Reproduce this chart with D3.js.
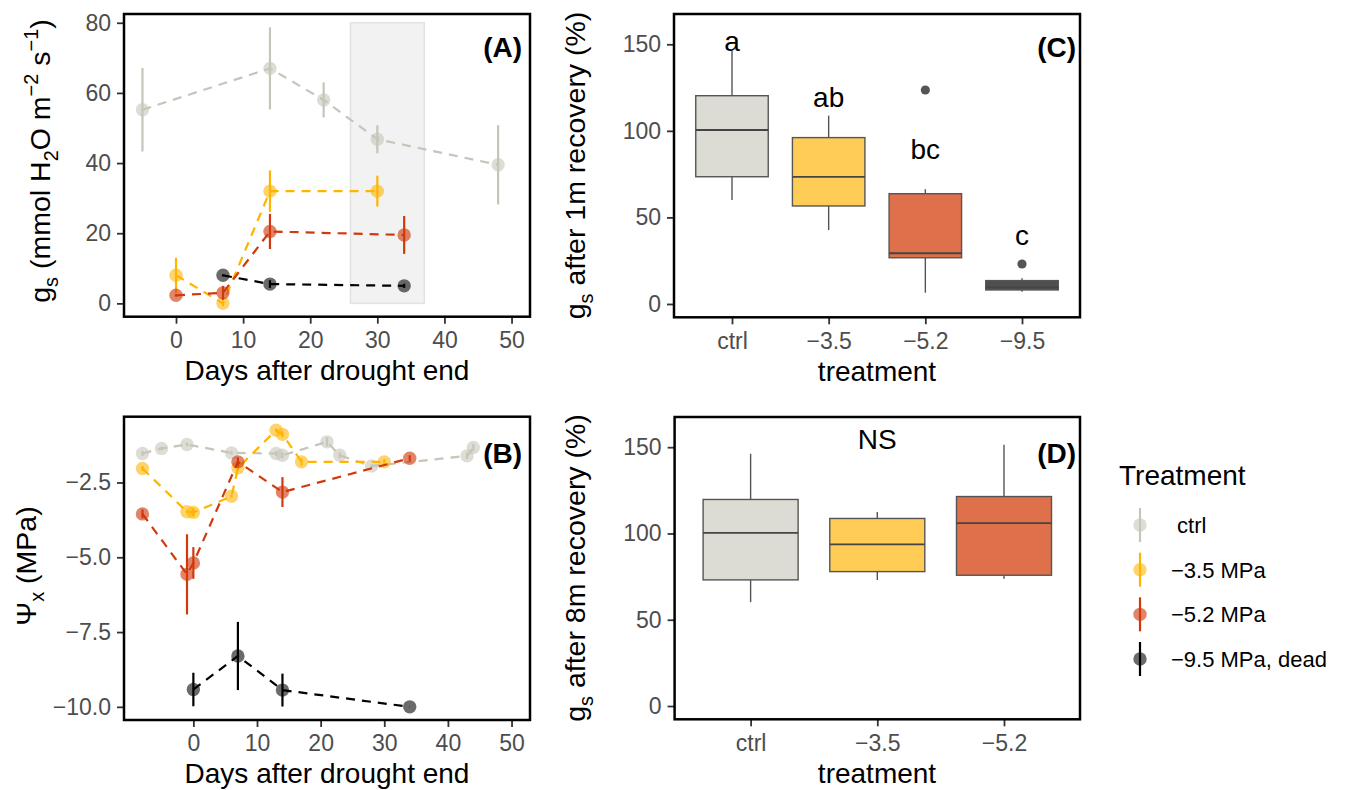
<!DOCTYPE html>
<html>
<head>
<meta charset="utf-8">
<script src="https://cdn.jsdelivr.net/npm/d3@7"></script>
<style>
  body { margin: 0; background: #fff; }
  text { font-family: "Liberation Sans", Arial, sans-serif; white-space: pre; }
</style>
</head>
<body>
<svg id="fig" width="1346" height="790"></svg>
<script>
// ---------- data ----------
const treatments = ["ctrl", "−3.5", "−5.2", "−9.5"];
const legendLabels = [" ctrl", "−3.5 MPa", "−5.2 MPa", "−9.5 MPa, dead"];
const lineColors = ["#C5C5B9", "#FFB400", "#D0390B", "#000000"];
const boxFills = ["#DCDCD4", "#FFCD55", "#DE714B", "#4F4F4F"];

// panel A: gs (mmol m-2 s-1) vs days after drought end
const gsCtrlDays = [-5, 14, 22, 30, 48];
const gsCtrlMean = [55.2, 67, 58, 46.8, 39.5];
const gsCtrlSe   = [11.9, 11.7, 5, 4, 11.3];
const gs35Days = [0, 7, 14, 30];
const gs35Mean = [8, 0, 32, 32];
const gs35Se   = [5, 0.8, 5.9, 4.4];
const gs52Days = [0, 7, 14, 34];
const gs52Mean = [2.3, 3, 20.5, 19.5];
const gs52Se   = [0.4, 2, 5, 5.4];
const gs95Days = [7, 14, 34];
const gs95Mean = [8, 5.5, 5];
const gs95Se   = [0.3, 1.1, 0.6];
const shadeDays = [26, 37];
const shadeGs = [0, 80];

// panel B: xylem water potential (MPa)
const psiCtrlDays = [-8, -5, -1, 6, 13, 14, 21, 23, 28, 43, 44];
const psiCtrlMean = [-1.53, -1.36, -1.23, -1.51, -1.53, -1.59, -1.14, -1.59, -1.95, -1.61, -1.33];
const psiCtrlSe   = [0.08, 0.06, 0.06, 0.06, 0.08, 0.1, 0.15, 0.1, 0.06, 0.1, 0.12];
const psi35Days = [-8, -1, 0, 6, 7, 13, 14, 17, 30];
const psi35Mean = [-2.03, -3.48, -3.5, -2.96, -2.01, -0.75, -0.89, -1.81, -1.81];
const psi35Se   = [0.08, 0.05, 0.15, 0.05, 0.1, 0.05, 0.1, 0.12, 0.1];
const psi52Days = [-8, -1, 0, 7, 14, 34];
const psi52Mean = [-3.55, -5.57, -5.19, -1.81, -2.82, -1.69];
const psi52Se   = [0.15, 1.34, 0.53, 0.15, 0.5, 0.1];
const psi95Days = [0, 7, 14, 34];
const psi95Mean = [-9.42, -8.3, -9.44, -10.0];
const psi95Se   = [0.56, 1.14, 0.55, 0];

// panel C: gs after 1 month recovery (%)
const c1Lo  = [60, 42.7, 6.5, 7.1];
const c1Q1  = [73.5, 56.6, 26.7, 8.1];
const c1Med = [100.5, 73.4, 29.3, 9.6];
const c1Q3  = [120.3, 96.1, 63.7, 13.5];
const c1Hi  = [146.5, 108.8, 66.3, 14.8];
const c1Out = [[], [], [123.6], [23.1]];
const c1Letters = ["a", "ab", "bc", "c"];
const c1LetterY = [146, 114, 84, 34];

// panel D: gs after 8 months recovery (%)
const d8Lo  = [60.2, 73.1, 73.7];
const d8Q1  = [73.1, 77.9, 75.8];
const d8Med = [100.4, 93.7, 106];
const d8Q3  = [119.7, 108.7, 121.4];
const d8Hi  = [146.2, 112.5, 151.4];
const d8Label = "NS";
const d8LabelY = 149;

const xTicks = [0, 10, 20, 30, 40, 50];
const gsTicks = [0, 20, 40, 60, 80];
const psiTicks = [-2.5, -5, -7.5, -10];
const pctTicks = [0, 50, 100, 150];

// ---------- helpers ----------
const svg = d3.select("#fig");
const tickFont = 23, titleFont = 28, rotFont = 28.5;

function hText(x, y, str, size, anchor, weight) {
  return svg.append("text")
    .attr("x", x).attr("y", y)
    .attr("text-anchor", anchor || "middle")
    .attr("font-size", size)
    .attr("font-weight", weight || "normal")
    .attr("fill", "#000")
    .text(str);
}

function vTitle(x, y, parts) {
  const t = svg.append("text")
    .attr("transform", `translate(${x},${y}) rotate(-90)`)
    .attr("text-anchor", "middle")
    .attr("font-size", rotFont);
  let shift = 0;
  parts.forEach(p => {
    const target = p[1] === "sub" ? 0.28 * rotFont : p[1] === "sup" ? -0.42 * rotFont : 0;
    t.append("tspan")
      .attr("dy", target - shift)
      .attr("font-size", p[1] === "n" ? rotFont : rotFont * 0.7)
      .text(p[0]);
    shift = target;
  });
  return t;
}

function styleAxis(g) {
  g.attr("font-size", null).attr("font-family", null);
  g.select(".domain").remove();
  g.selectAll(".tick line").attr("stroke", "#333").attr("stroke-width", 1.8);
  g.selectAll(".tick text").attr("fill", "#4D4D4D").attr("font-size", tickFont);
}

function frame(x, y) {
  svg.append("rect")
    .attr("x", x.range()[0]).attr("y", y.range()[1])
    .attr("width", x.range()[1] - x.range()[0])
    .attr("height", y.range()[0] - y.range()[1])
    .attr("fill", "none").attr("stroke", "#000").attr("stroke-width", 2.5);
}

function timeSeries(g, x, y, days, mean, se, col) {
  const pts = days.map((d, i) => ({ d: d, m: mean[i], s: se[i] }));
  g.append("g").selectAll("circle").data(pts).join("circle")
    .attr("cx", p => x(p.d)).attr("cy", p => y(p.m)).attr("r", 6.7)
    .attr("fill", col).attr("fill-opacity", col === "#D0390B" ? 0.62 : 0.58);
  g.append("path").datum(pts)
    .attr("fill", "none").attr("stroke", col).attr("stroke-width", 2.2)
    .attr("stroke-dasharray", "9,7")
    .attr("d", d3.line().x(p => x(p.d)).y(p => y(p.m)));
  g.append("g").selectAll("line").data(pts.filter(p => p.s > 0)).join("line")
    .attr("x1", p => x(p.d)).attr("x2", p => x(p.d))
    .attr("y1", p => y(p.m - p.s)).attr("y2", p => y(p.m + p.s))
    .attr("stroke", col).attr("stroke-width", 2.2);
}

function boxes(x, y, cats, lo, q1, med, q3, hi, outs) {
  const w = x.step() * 0.75;
  const g = svg.append("g");
  cats.forEach((c, i) => {
    const cx = x(c);
    g.append("line").attr("x1", cx).attr("x2", cx).attr("y1", y(hi[i])).attr("y2", y(q3[i]))
      .attr("stroke", "#555").attr("stroke-width", 1.4);
    g.append("line").attr("x1", cx).attr("x2", cx).attr("y1", y(q1[i])).attr("y2", y(lo[i]))
      .attr("stroke", "#555").attr("stroke-width", 1.4);
    g.append("rect").attr("x", cx - w / 2).attr("width", w)
      .attr("y", y(q3[i])).attr("height", y(q1[i]) - y(q3[i]))
      .attr("fill", boxFills[i]).attr("stroke", "#555").attr("stroke-width", 1.4);
    g.append("line").attr("x1", cx - w / 2).attr("x2", cx + w / 2)
      .attr("y1", y(med[i])).attr("y2", y(med[i]))
      .attr("stroke", "#444").attr("stroke-width", 1.8);
    (outs ? outs[i] : []).forEach(o => {
      g.append("circle").attr("cx", cx).attr("cy", y(o)).attr("r", 4.6).attr("fill", "#555");
    });
  });
}

// ---------- panel A ----------
const xA = d3.scaleLinear().domain([-7.75, 52.75]).range([124, 530]);
const yA = d3.scaleLinear().domain([-3.8, 82.5]).range([316.7, 14]);
svg.append("rect")
  .attr("x", xA(shadeDays[0])).attr("width", xA(shadeDays[1]) - xA(shadeDays[0]))
  .attr("y", yA(shadeGs[1])).attr("height", yA(shadeGs[0]) - yA(shadeGs[1]))
  .attr("fill", "#F2F2F2").attr("stroke", "#E2E2E2").attr("stroke-width", 1.5);
const gA = svg.append("g");
timeSeries(gA, xA, yA, gsCtrlDays, gsCtrlMean, gsCtrlSe, lineColors[0]);
timeSeries(gA, xA, yA, gs35Days, gs35Mean, gs35Se, lineColors[1]);
timeSeries(gA, xA, yA, gs52Days, gs52Mean, gs52Se, lineColors[2]);
timeSeries(gA, xA, yA, gs95Days, gs95Mean, gs95Se, lineColors[3]);
svg.append("g").attr("transform", "translate(0,316.7)")
  .call(d3.axisBottom(xA).tickValues(xTicks).tickSize(7).tickPadding(8)).call(styleAxis);
svg.append("g").attr("transform", "translate(124,0)")
  .call(d3.axisLeft(yA).tickValues(gsTicks).tickSize(7).tickPadding(6)).call(styleAxis);
frame(xA, yA);
hText(522, 57, "(A)", titleFont, "end", "bold");
hText(327, 380, "Days after drought end", titleFont);
vTitle(50, 161, [["g", "n"], ["s", "sub"], [" (mmol H", "n"], ["2", "sub"], ["O m", "n"],
                 ["−2", "sup"], [" s", "n"], ["−1", "sup"], [")", "n"]]);

// ---------- panel B ----------
const xB = d3.scaleLinear().domain([-10.9, 52.9]).range([124, 530]);
const yB = d3.scaleLinear().domain([-10.44, -0.3]).range([720, 416.7]);
const gB = svg.append("g");
timeSeries(gB, xB, yB, psiCtrlDays, psiCtrlMean, psiCtrlSe, lineColors[0]);
timeSeries(gB, xB, yB, psi35Days, psi35Mean, psi35Se, lineColors[1]);
timeSeries(gB, xB, yB, psi52Days, psi52Mean, psi52Se, lineColors[2]);
timeSeries(gB, xB, yB, psi95Days, psi95Mean, psi95Se, lineColors[3]);
svg.append("g").attr("transform", "translate(0,720)")
  .call(d3.axisBottom(xB).tickValues(xTicks).tickSize(7).tickPadding(8)).call(styleAxis);
svg.append("g").attr("transform", "translate(124,0)")
  .call(d3.axisLeft(yB).tickValues(psiTicks).tickFormat(d3.format(".1f")).tickSize(7).tickPadding(6))
  .call(styleAxis);
frame(xB, yB);
hText(522, 463, "(B)", titleFont, "end", "bold");
hText(327, 783, "Days after drought end", titleFont);
vTitle(36, 566, [["Ψ", "n"], ["x", "sub"], [" (MPa)", "n"]]);

// ---------- panel C ----------
const xC = d3.scalePoint().domain(treatments).range([674, 1080]).padding(0.6);
const yC = d3.scaleLinear().domain([-7.7, 167.5]).range([317.3, 14]);
boxes(xC, yC, treatments, c1Lo, c1Q1, c1Med, c1Q3, c1Hi, c1Out);
c1Letters.forEach((l, i) => hText(xC(treatments[i]), yC(c1LetterY[i]), l, titleFont));
svg.append("g").attr("transform", "translate(0,317.3)")
  .call(d3.axisBottom(xC).tickSize(7).tickPadding(8)).call(styleAxis);
svg.append("g").attr("transform", "translate(674,0)")
  .call(d3.axisLeft(yC).tickValues(pctTicks).tickSize(7).tickPadding(6)).call(styleAxis);
frame(xC, yC);
hText(1076, 57, "(C)", titleFont, "end", "bold");
hText(877, 381, "treatment", titleFont);
vTitle(585, 165.5, [["g", "n"], ["s", "sub"], [" after 1m recovery (%)", "n"]]);

// ---------- panel D ----------
const catsD = treatments.slice(0, 3);
const xD = d3.scalePoint().domain(catsD).range([674.6, 1080]).padding(0.6);
const yD = d3.scaleLinear().domain([-7.7, 167.5]).range([719.3, 417]);
boxes(xD, yD, catsD, d8Lo, d8Q1, d8Med, d8Q3, d8Hi, null);
hText(xD(catsD[1]), yD(d8LabelY), d8Label, titleFont);
svg.append("g").attr("transform", "translate(0,719.3)")
  .call(d3.axisBottom(xD).tickSize(7).tickPadding(8)).call(styleAxis);
svg.append("g").attr("transform", "translate(674.6,0)")
  .call(d3.axisLeft(yD).tickValues(pctTicks).tickSize(7).tickPadding(6)).call(styleAxis);
frame(xD, yD);
hText(1076, 463, "(D)", titleFont, "end", "bold");
hText(877, 783, "treatment", titleFont);
vTitle(585, 568, [["g", "n"], ["s", "sub"], [" after 8m recovery (%)", "n"]]);

// ---------- legend ----------
hText(1119, 485, "Treatment", 28, "start");
const keyY = d3.scalePoint().domain(legendLabels).range([525, 659]);
legendLabels.forEach((lab, i) => {
  const ky = keyY(lab);
  svg.append("circle").attr("cx", 1140).attr("cy", ky).attr("r", 6.7)
    .attr("fill", lineColors[i]).attr("fill-opacity", i === 2 ? 0.62 : 0.58);
  svg.append("line").attr("x1", 1140).attr("x2", 1140).attr("y1", ky - 17).attr("y2", ky + 17)
    .attr("stroke", lineColors[i]).attr("stroke-width", 2.2);
  hText(1171, ky + 8, lab, 22, "start");
});
</script>
</body>
</html>
